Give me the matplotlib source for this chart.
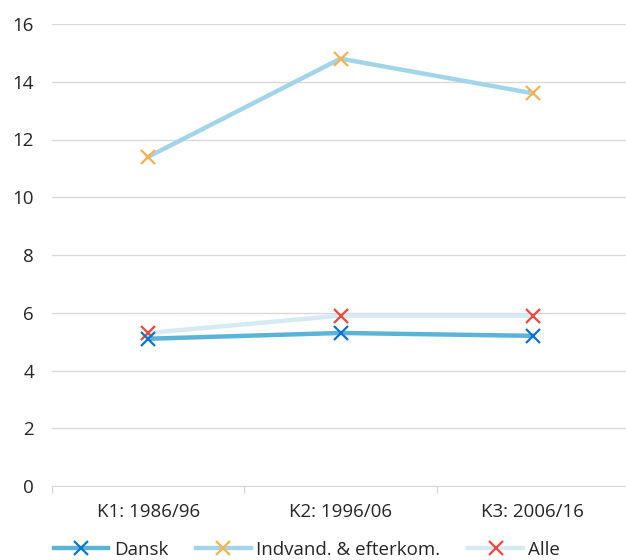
import matplotlib.pyplot as plt
from matplotlib.ticker import FixedLocator

periods = ["K1: 1986/96", "K2: 1996/06", "K3: 2006/16"]
dansk = [5.1, 5.3, 5.2]
indvand = [11.4, 14.8, 13.6]
alle = [5.3, 5.9, 5.9]

plt.rcParams['font.family'] = ['Open Sans', 'DejaVu Sans']

fig = plt.figure(figsize=(6.26, 5.6), dpi=100)
ax = fig.add_axes([52 / 626, 74 / 560, 577 / 626, 462 / 560])

x = range(len(periods))
ax.plot(x, alle, color='#d5eaf3', lw=3.2, marker='x', ms=10, mew=1.6,
        mec='#f0483a', label='Alle', zorder=3)
ax.plot(x, indvand, color='#a3d5ea', lw=3.2, marker='x', ms=10, mew=1.6,
        mec='#f5b24d', label='Indvand. & efterkom.', zorder=3)
ax.plot(x, dansk, color='#5bb4d8', lw=3.2, marker='x', ms=10, mew=1.6,
        mec='#0a74d4', label='Dansk', zorder=4)

ax.set_xlim(-0.5, 2.5)
ax.set_ylim(0, 16)
ax.set_yticks(range(0, 17, 2))
ax.set_xticks(list(x))
ax.set_xticklabels(periods)
ax.xaxis.set_minor_locator(FixedLocator([-0.5, 0.5, 1.5, 2.5]))
ax.tick_params(axis='x', which='major', length=0, pad=12, labelsize=13.5, labelcolor='#262626')
ax.tick_params(axis='x', which='minor', length=5, color='#d9d9d9', width=1)
ax.tick_params(axis='y', length=0, pad=13, labelsize=13.5, labelcolor='#262626')

ax.grid(axis='y', color='#d9d9d9', lw=1)
ax.set_axisbelow(True)
for s in ['left', 'right', 'top']:
    ax.spines[s].set_visible(False)
ax.spines['bottom'].set_color('#d9d9d9')

h, l = ax.get_legend_handles_labels()
order = [2, 1, 0]
fig.legend([h[i] for i in order], [l[i] for i in order], loc='center',
           bbox_to_anchor=(307 / 626, 10 / 560), ncol=3, frameon=False,
           fontsize=13.5, handlelength=2.9, handletextpad=0.3, columnspacing=1.5,
           labelcolor='#262626')

fig.savefig('out.png', dpi=100)
